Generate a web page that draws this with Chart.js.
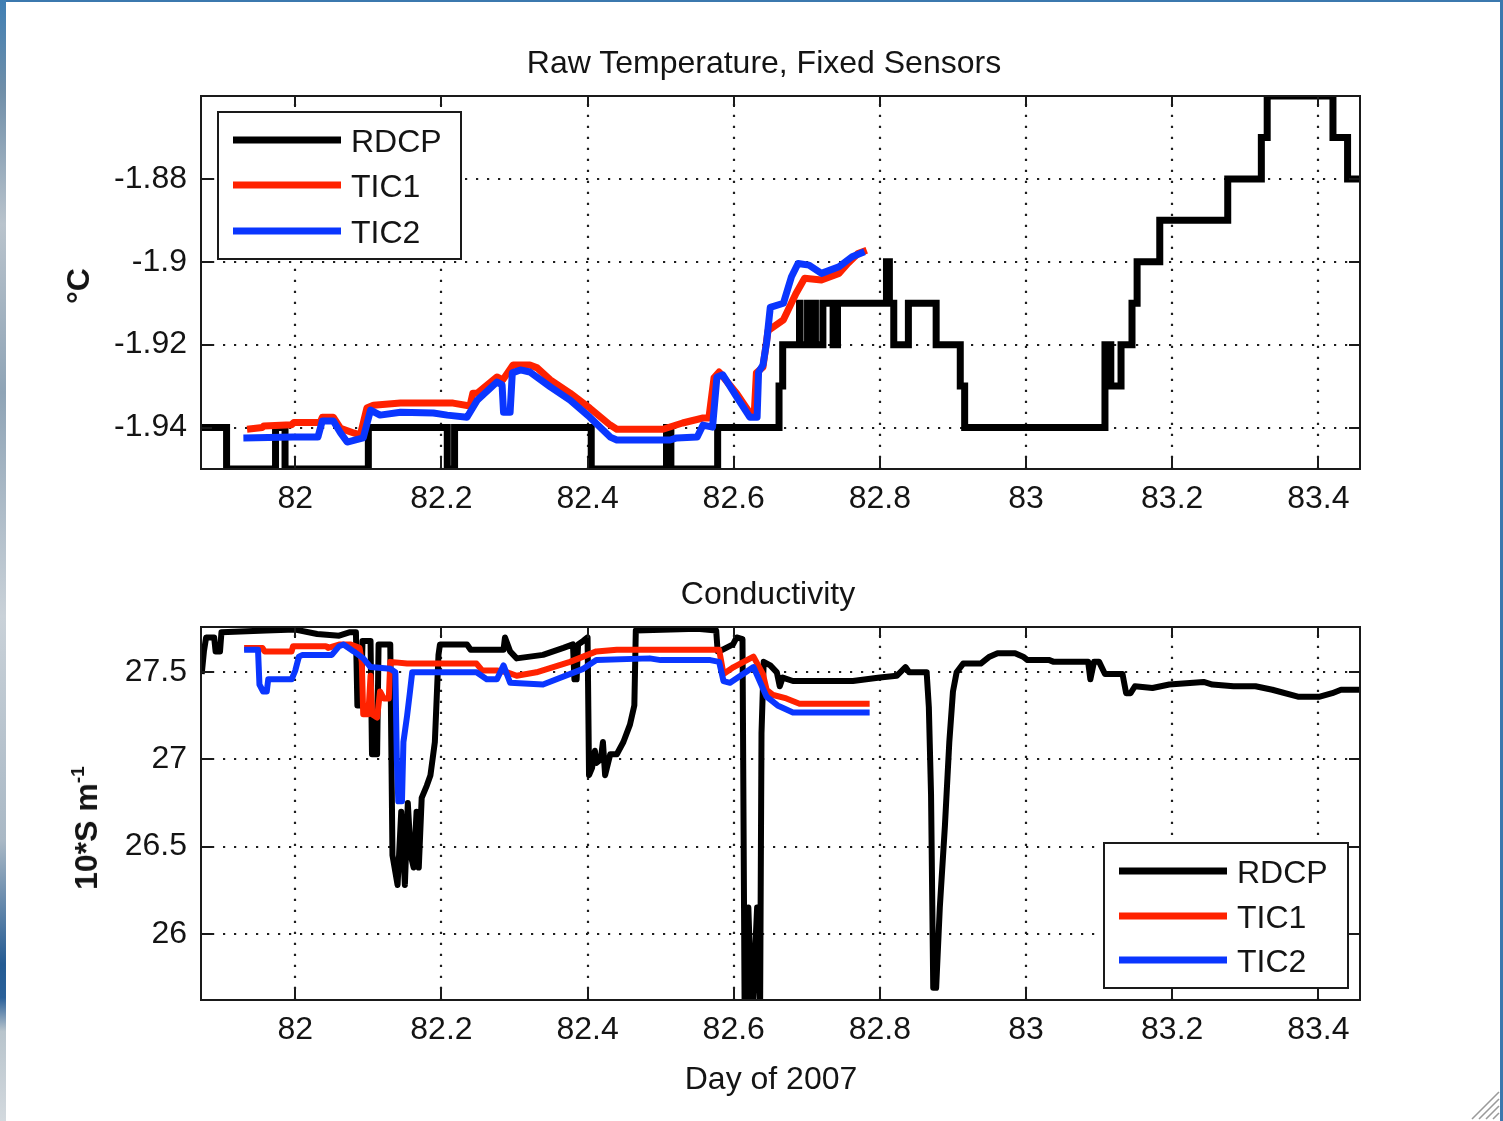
<!DOCTYPE html>
<html>
<head>
<meta charset="utf-8">
<title>Raw Temperature and Conductivity, Fixed Sensors</title>
<script src="https://cdn.jsdelivr.net/npm/chart.js@4.4.1/dist/chart.umd.min.js"></script>
<style>
  html, body { margin: 0; padding: 0; }
  body {
    width: 1503px; height: 1121px; overflow: hidden; position: relative;
    background: #3b78ae;
    font-family: "Liberation Sans", Arial, Helvetica, sans-serif;
  }
  #leftStrip {
    position: absolute; left: 0; top: 0; width: 6px; height: 1121px;
    background: linear-gradient(#3f7fb4 0%, #6f8ea8 8%, #b9c3cc 20%, #8fa4b6 35%, #c9d1d8 55%,
                                #a9b8c5 75%, #245b93 86%, #2a6099 89%, #b8c4cc 92%, #d3d9de 100%);
  }
  #panel { position: absolute; left: 6px; top: 2px; width: 1494px; height: 1119px; background: #fff; }
  canvas { position: absolute; left: 0; }
  #cTemp { top: 0; }
  #cCond { top: 540px; }
  .txt {
    position: absolute; color: #141414; font-size: 32px; line-height: 1; white-space: nowrap;
    transform: translate(-50%, -50%);
  }
  .ylab { font-weight: bold; transform: translate(-50%, -50%) rotate(-90deg); }
  .ylab sup { font-size: 0.6em; line-height: 0; vertical-align: 0.7em; }
  #grip { position: absolute; left: 1468px; top: 1088px; }
</style>
</head>
<body>
<div id="leftStrip"></div>
<div id="panel"></div>

<canvas id="cTemp" width="1503" height="540"></canvas>
<canvas id="cCond" width="1503" height="581"></canvas>

<div class="txt" style="left:764px; top:62px;">Raw Temperature, Fixed Sensors</div>
<div class="txt" style="left:768px; top:593px;">Conductivity</div>
<div class="txt" style="left:771px; top:1078px;">Day of 2007</div>
<div class="txt ylab" style="left:78px; top:286px;">°C</div>
<div class="txt ylab" style="left:86px; top:828px;">10*S m<sup>-1</sup></div>

<svg id="grip" width="32" height="32" viewBox="0 0 32 32">
  <g stroke="#9a9a9a" stroke-width="1.6">
    <line x1="4" y1="31" x2="31" y2="4"/>
    <line x1="11" y1="31" x2="31" y2="11"/>
    <line x1="18" y1="31" x2="31" y2="18"/>
    <line x1="25" y1="31" x2="31" y2="25"/>
  </g>
</svg>

<script>
// ---- series names and tick values ----
const seriesNames = ['RDCP', 'TIC1', 'TIC2'];
const seriesColors = ['#000000', '#ff2200', '#0a36ff'];
const dayTicks = [82, 82.2, 82.4, 82.6, 82.8, 83, 83.2, 83.4];
const tempTicks = [-1.94, -1.92, -1.9, -1.88];
const condTicks = [26, 26.5, 27, 27.5];

// ---- temperature (deg C); RDCP is recorded in 0.01 steps and held until the next change ----
const rdcpTempDay = [81.871, 81.906, 81.973, 81.986, 82.100, 82.208, 82.218, 82.405, 82.508, 82.514,
  82.578, 82.662, 82.667, 82.690, 82.6908, 82.701, 82.7018, 82.711, 82.7118, 82.722, 82.736, 82.742,
  82.809, 82.813, 82.819, 82.839, 82.877, 82.910, 82.916, 83.108, 83.116, 83.130, 83.145, 83.152,
  83.183, 83.276, 83.322, 83.330, 83.420, 83.440, 83.457];
const rdcpTempVal = [-1.94, -1.95, -1.94, -1.95, -1.94, -1.95, -1.94, -1.95, -1.94, -1.95,
  -1.94, -1.93, -1.92, -1.91, -1.92, -1.91, -1.92, -1.91, -1.92, -1.91, -1.92, -1.91,
  -1.90, -1.91, -1.92, -1.91, -1.92, -1.93, -1.94, -1.92, -1.93, -1.92, -1.91, -1.90,
  -1.89, -1.88, -1.87, -1.86, -1.87, -1.88, -1.88];

const tic1TempDay = [81.934, 81.955, 81.957, 81.995, 81.998, 82.034, 82.037, 82.052, 82.062, 82.080,
  82.089, 82.098, 82.107, 82.144, 82.216, 82.239, 82.243, 82.249, 82.276, 82.284, 82.298, 82.321,
  82.331, 82.349, 82.376, 82.403, 82.431, 82.440, 82.503, 82.530, 82.558, 82.566, 82.573, 82.580,
  82.604, 82.622, 82.628, 82.631, 82.640, 82.647, 82.668, 82.685, 82.697, 82.720, 82.744, 82.756,
  82.770, 82.782];
const tic1TempVal = [-1.9404, -1.9400, -1.9396, -1.9393, -1.9388, -1.9388, -1.9375, -1.9375, -1.9402, -1.9413,
  -1.9418, -1.9353, -1.9346, -1.9341, -1.9341, -1.9348, -1.9317, -1.9317, -1.9278, -1.9285, -1.9249, -1.9249,
  -1.9256, -1.9285, -1.9317, -1.9353, -1.9394, -1.9404, -1.9404, -1.9389, -1.9377, -1.9377, -1.9280, -1.9266,
  -1.9318, -1.9365, -1.9370, -1.9268, -1.9254, -1.9166, -1.9140, -1.9077, -1.9040, -1.9044, -1.9028, -1.9004,
  -1.8980, -1.8972];

const tic2TempDay = [81.929, 81.997, 82.031, 82.037, 82.052, 82.062, 82.071, 82.093, 82.103, 82.116,
  82.144, 82.189, 82.208, 82.235, 82.249, 82.276, 82.283, 82.285, 82.294, 82.297, 82.308, 82.321,
  82.349, 82.376, 82.403, 82.431, 82.440, 82.513, 82.522, 82.550, 82.558, 82.571, 82.577, 82.585,
  82.604, 82.622, 82.632, 82.634, 82.640, 82.645, 82.650, 82.668, 82.679, 82.688, 82.703, 82.720,
  82.744, 82.762, 82.779];
const tic2TempVal = [-1.9425, -1.9423, -1.9423, -1.9384, -1.9384, -1.9413, -1.9435, -1.9425, -1.9358, -1.9370,
  -1.9363, -1.9365, -1.9370, -1.9375, -1.9334, -1.9290, -1.9297, -1.9363, -1.9363, -1.9268, -1.9261, -1.9266,
  -1.9302, -1.9334, -1.9375, -1.9423, -1.9430, -1.9430, -1.9425, -1.9423, -1.9394, -1.9399, -1.9278, -1.9273,
  -1.9326, -1.9375, -1.9375, -1.9266, -1.9249, -1.9194, -1.9110, -1.9100, -1.9036, -1.9004, -1.9008, -1.9028,
  -1.9012, -1.8988, -1.8976];

// ---- conductivity (10*S/m) ----
const rdcpCondDay = [81.872, 81.875, 81.878, 81.889, 81.891, 81.897, 81.899, 81.960, 82.000, 82.030,
  82.060, 82.075, 82.083, 82.085, 82.090, 82.092, 82.103, 82.105, 82.112, 82.114, 82.130, 82.133,
  82.140, 82.145, 82.150, 82.154, 82.158, 82.162, 82.166, 82.169, 82.173, 82.180, 82.185, 82.191,
  82.196, 82.198, 82.235, 82.240, 82.285, 82.287, 82.294, 82.303, 82.339, 82.367, 82.380, 82.382,
  82.385, 82.387, 82.394, 82.400, 82.402, 82.406, 82.410, 82.412, 82.418, 82.421, 82.424, 82.431,
  82.440, 82.449, 82.458, 82.464, 82.466, 82.550, 82.576, 82.578, 82.585, 82.599, 82.604, 82.612,
  82.615, 82.620, 82.625, 82.632, 82.636, 82.638, 82.641, 82.650, 82.659, 82.663, 82.667, 82.681,
  82.763, 82.800, 82.823, 82.835, 82.840, 82.864, 82.867, 82.870, 82.873, 82.877, 82.882, 82.889,
  82.895, 82.900, 82.905, 82.914, 82.938, 82.950, 82.961, 82.985, 82.996, 83.002, 83.032, 83.038,
  83.085, 83.088, 83.093, 83.100, 83.108, 83.132, 83.137, 83.143, 83.149, 83.173, 83.196, 83.243,
  83.255, 83.284, 83.314, 83.337, 83.372, 83.402, 83.419, 83.431, 83.457];
const rdcpCondVal = [27.49, 27.62, 27.70, 27.70, 27.62, 27.62, 27.73, 27.74, 27.745, 27.72,
  27.71, 27.73, 27.73, 27.31, 27.31, 27.68, 27.68, 27.03, 27.03, 27.66, 27.66, 26.45,
  26.28, 26.70, 26.28, 26.75, 26.45, 26.38, 26.70, 26.38, 26.78, 26.85, 26.91, 27.10,
  27.60, 27.66, 27.66, 27.63, 27.63, 27.70, 27.62, 27.58, 27.60, 27.64, 27.66, 27.46,
  27.46, 27.66, 27.68, 27.70, 26.91, 26.95, 27.05, 26.98, 27.00, 27.10, 26.91, 27.03,
  27.03, 27.10, 27.20, 27.31, 27.74, 27.75, 27.74, 27.62, 27.63, 27.66, 27.70, 27.69,
  25.50, 26.15, 25.50, 26.15, 25.50, 27.15, 27.56, 27.54, 27.50, 27.42, 27.47, 27.45,
  27.45, 27.47, 27.48, 27.53, 27.50, 27.50, 27.30, 26.80, 25.69, 25.69, 26.15, 26.62,
  27.10, 27.39, 27.50, 27.55, 27.55, 27.59, 27.61, 27.61, 27.59, 27.57, 27.57, 27.56,
  27.56, 27.46, 27.56, 27.56, 27.49, 27.49, 27.38, 27.38, 27.42, 27.41, 27.43, 27.445,
  27.43, 27.42, 27.42, 27.40, 27.36, 27.36, 27.38, 27.40, 27.40];

const tic1CondDay = [81.930, 81.955, 81.958, 81.995, 81.997, 82.042, 82.045, 82.061, 82.075, 82.088,
  82.091, 82.093, 82.100, 82.103, 82.105, 82.112, 82.116, 82.121, 82.128, 82.130, 82.153, 82.248,
  82.256, 82.276, 82.290, 82.303, 82.330, 82.376, 82.412, 82.440, 82.554, 82.580, 82.586, 82.600,
  82.627, 82.640, 82.645, 82.654, 82.672, 82.690, 82.786];
const tic1CondVal = [27.64, 27.64, 27.62, 27.62, 27.65, 27.65, 27.64, 27.66, 27.66, 27.64,
  27.56, 27.26, 27.26, 27.48, 27.26, 27.24, 27.39, 27.35, 27.35, 27.56, 27.55, 27.55,
  27.51, 27.51, 27.50, 27.48, 27.50, 27.56, 27.62, 27.63, 27.63, 27.63, 27.49, 27.53,
  27.59, 27.49, 27.40, 27.37, 27.35, 27.32, 27.32];

const tic2CondDay = [81.930, 81.949, 81.951, 81.956, 81.961, 81.963, 81.995, 82.000, 82.005, 82.010,
  82.050, 82.060, 82.066, 82.080, 82.093, 82.103, 82.130, 82.137, 82.139, 82.141, 82.146, 82.148,
  82.153, 82.157, 82.160, 82.248, 82.262, 82.276, 82.285, 82.294, 82.339, 82.394, 82.412, 82.485,
  82.500, 82.568, 82.580, 82.586, 82.595, 82.627, 82.645, 82.660, 82.681, 82.786];
const tic2CondVal = [27.63, 27.63, 27.43, 27.39, 27.39, 27.46, 27.46, 27.51, 27.59, 27.60,
  27.60, 27.65, 27.66, 27.62, 27.58, 27.53, 27.52, 27.50, 27.00, 26.76, 26.76, 27.10,
  27.25, 27.39, 27.50, 27.50, 27.46, 27.46, 27.54, 27.44, 27.43, 27.52, 27.57, 27.58,
  27.57, 27.57, 27.56, 27.45, 27.44, 27.53, 27.36, 27.31, 27.27, 27.27];

// ---- axis ranges ----
const xMin = 81.871, xMax = 83.457;
const tempMin = -1.95, tempMax = -1.86;
const condMin = 25.62, condMax = 27.76;

const FONT = '"Liberation Sans", Arial, Helvetica, sans-serif';

function pts(days, vals) {
  return days.map((d, i) => ({ x: d, y: vals[i] }));
}

// Axes box, dotted grid, inward tick marks and a boxed legend inside the plot area
const frame = {
  id: 'frame',
  beforeDatasetsDraw(chart) {
    const { ctx, chartArea: a } = chart;
    const xs = chart.scales.x, ys = chart.scales.y;
    ctx.save();
    ctx.strokeStyle = '#1e1e1e';
    ctx.lineWidth = 2.2;
    ctx.setLineDash([2.2, 8.8]);
    ctx.beginPath();
    xs.ticks.forEach(t => {
      const p = Math.round(xs.getPixelForValue(t.value));
      ctx.moveTo(p, a.bottom); ctx.lineTo(p, a.top);
    });
    ys.ticks.forEach(t => {
      const p = Math.round(ys.getPixelForValue(t.value));
      ctx.moveTo(a.left, p); ctx.lineTo(a.right, p);
    });
    ctx.stroke();
    ctx.restore();
  },
  afterDatasetsDraw(chart, args, opts) {
    const { ctx, chartArea: a } = chart;
    const xs = chart.scales.x, ys = chart.scales.y;
    ctx.save();
    ctx.setLineDash([]);
    ctx.strokeStyle = '#1a1a1a';
    ctx.lineWidth = 2;
    ctx.strokeRect(a.left, a.top, a.right - a.left, a.bottom - a.top);
    const L = 11;
    ctx.beginPath();
    xs.ticks.forEach(t => {
      const p = Math.round(xs.getPixelForValue(t.value));
      ctx.moveTo(p, a.bottom); ctx.lineTo(p, a.bottom - L);
      ctx.moveTo(p, a.top); ctx.lineTo(p, a.top + L);
    });
    ys.ticks.forEach(t => {
      const p = Math.round(ys.getPixelForValue(t.value));
      ctx.moveTo(a.left, p); ctx.lineTo(a.left + L, p);
      ctx.moveTo(a.right, p); ctx.lineTo(a.right - L, p);
    });
    ctx.stroke();

    const lg = opts.box;
    const bx = lg.corner === 'tl' ? a.left + lg.dx : a.right - lg.dx - lg.w;
    const by = lg.corner === 'tl' ? a.top + lg.dy : a.bottom - lg.dy - lg.h;
    ctx.fillStyle = '#ffffff';
    ctx.fillRect(bx, by, lg.w, lg.h);
    ctx.strokeStyle = '#1a1a1a';
    ctx.lineWidth = 2;
    ctx.strokeRect(bx, by, lg.w, lg.h);
    ctx.font = '32px ' + FONT;
    ctx.textBaseline = 'middle';
    ctx.textAlign = 'left';
    chart.data.datasets.forEach((ds, i) => {
      const ry = by + lg.rows[i];
      ctx.strokeStyle = ds.borderColor;
      ctx.lineWidth = 7;
      ctx.beginPath();
      ctx.moveTo(bx + 15, ry); ctx.lineTo(bx + 123, ry);
      ctx.stroke();
      ctx.fillStyle = '#141414';
      ctx.fillText(ds.label, bx + 133, ry + 3);
    });
    ctx.restore();
  }
};

function makeChart(id, datasets, yMin, yMax, yTickVals, yFmt, lay, box) {
  return new Chart(document.getElementById(id), {
    type: 'line',
    data: { datasets },
    options: {
      responsive: false,
      maintainAspectRatio: false,
      animation: false,
      devicePixelRatio: 1,
      layout: { padding: lay.padding },
      elements: { point: { radius: 0 }, line: { tension: 0 } },
      plugins: {
        legend: { display: false },
        title: { display: false },
        tooltip: { enabled: false },
        frame: { box }
      },
      scales: {
        x: {
          type: 'linear', min: xMin, max: xMax,
          grid: { display: false }, border: { display: false },
          afterBuildTicks: s => { s.ticks = dayTicks.map(v => ({ value: v })); },
          afterFit: s => { s.height = lay.xh; },
          ticks: {
            autoSkip: false, maxRotation: 0, minRotation: 0, padding: 3,
            color: '#141414', font: { family: FONT, size: 32 },
            callback: v => String(+Number(v).toFixed(1))
          }
        },
        y: {
          type: 'linear', min: yMin, max: yMax,
          grid: { display: false }, border: { display: false },
          afterBuildTicks: s => { s.ticks = yTickVals.map(v => ({ value: v })); },
          afterFit: s => { s.width = lay.yw; },
          ticks: {
            padding: 6, color: '#141414', font: { family: FONT, size: 32 },
            callback: yFmt
          }
        }
      }
    },
    plugins: [frame]
  });
}

function series(i, days, vals, extra) {
  return Object.assign({
    label: seriesNames[i],
    data: pts(days, vals),
    borderColor: seriesColors[i],
    backgroundColor: seriesColors[i],
    borderWidth: 7,
    borderJoinStyle: 'round',
    fill: false,
    pointRadius: 0,
    order: 3 - i
  }, extra || {});
}

makeChart('cTemp', [
    series(0, rdcpTempDay, rdcpTempVal, { stepped: true, borderJoinStyle: 'miter' }),
    series(1, tic1TempDay, tic1TempVal),
    series(2, tic2TempDay, tic2TempVal)
  ],
  tempMin, tempMax, tempTicks, v => String(+Number(v).toFixed(2)),
  { padding: { left: 0, top: 96, right: 143, bottom: 0 }, yw: 201, xh: 71 },
  { corner: 'tl', dx: 17, dy: 16, w: 243, h: 147, rows: [28, 73, 119] });

makeChart('cCond', [
    series(0, rdcpCondDay, rdcpCondVal, { borderWidth: 6 }),
    series(1, tic1CondDay, tic1CondVal, { borderWidth: 6 }),
    series(2, tic2CondDay, tic2CondVal, { borderWidth: 6 })
  ],
  condMin, condMax, condTicks, v => String(+Number(v).toFixed(1)),
  { padding: { left: 0, top: 87, right: 143, bottom: 0 }, yw: 201, xh: 121 },
  { corner: 'br', dx: 12, dy: 12, w: 244, h: 145, rows: [28, 73, 117] });
</script>
</body>
</html>
